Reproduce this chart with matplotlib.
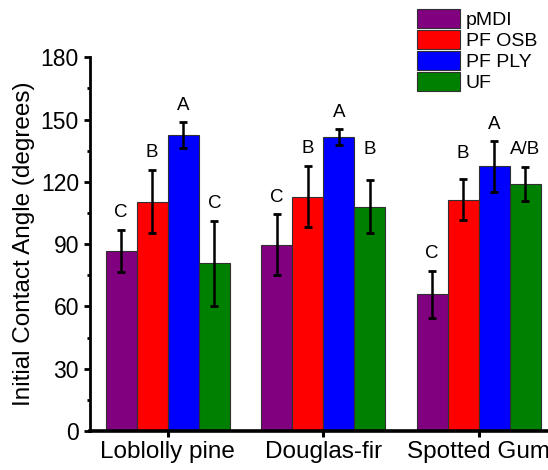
import numpy as np
import matplotlib
matplotlib.use('Agg')
import matplotlib.pyplot as plt
from matplotlib.ticker import MultipleLocator

plt.rcParams['font.family'] = ['Liberation Sans', 'DejaVu Sans']

# species groups and resin systems
species = ['Loblolly pine', 'Douglas-fir', 'Spotted Gum']
resins = ['pMDI', 'PF OSB', 'PF PLY', 'UF']
colors = ['#800080', '#ff0000', '#0000ff', '#008000']

# mean initial contact angle (degrees), one list per resin, in species order
pmdi = [86.9, 89.6, 65.8]
pf_osb = [110.5, 112.9, 111.3]
pf_ply = [142.7, 141.5, 127.5]
uf = [80.8, 108.1, 119.0]

# standard deviations
pmdi_sd = [10.1, 14.7, 11.4]
pf_osb_sd = [15.3, 14.7, 9.9]
pf_ply_sd = [6.2, 3.9, 12.3]
uf_sd = [20.4, 12.9, 8.2]

# significance letters
pmdi_grp = ['C', 'C', 'C']
pf_osb_grp = ['B', 'B', 'B']
pf_ply_grp = ['A', 'A', 'A']
uf_grp = ['C', 'B', 'A/B']

means = [pmdi, pf_osb, pf_ply, uf]
sds = [pmdi_sd, pf_osb_sd, pf_ply_sd, uf_sd]
groups = [pmdi_grp, pf_osb_grp, pf_ply_grp, uf_grp]

# gap between error bar top and letter centre (a few letters sit higher)
letter_gap = [[8.4, 8.4, 8.4],
              [8.4, 8.4, 12.5],
              [8.0, 8.0, 8.0],
              [8.4, 14.6, 8.4]]

fig = plt.figure(figsize=(5.48, 4.70), dpi=100)
ax = fig.add_axes([90 / 548, 39 / 470, 466.5 / 548, 373.7 / 470])

x = np.arange(len(species))
w = 0.2
for i, (m, s, g) in enumerate(zip(means, sds, groups)):
    pos = x + (i - 1.5) * w
    ax.bar(pos, m, width=w, color=colors[i], edgecolor='#303030',
           linewidth=0.8, label=resins[i], zorder=2)
    ax.errorbar(pos, m, yerr=s, fmt='none', ecolor='black', elinewidth=1.8,
                capsize=3.2, capthick=2.0, zorder=3)
    for xp, mv, sv, lab, gap in zip(pos, m, s, g, letter_gap[i]):
        ax.text(xp, mv + sv + gap, lab, ha='center', va='center',
                fontsize=13.5, zorder=4)

ax.set_xlim(-0.5, 2.5)
ax.set_ylim(0, 180)
ax.set_xticks(x)
ax.set_xticklabels(species, fontsize=17.5)
ax.yaxis.set_major_locator(MultipleLocator(30))
ax.yaxis.set_minor_locator(MultipleLocator(15))
ax.tick_params(axis='y', which='major', labelsize=16.5, length=4.5,
               width=2, pad=3.5, direction='out')
ax.tick_params(axis='y', which='minor', length=2.5, width=2, direction='out')
ax.tick_params(axis='x', which='major', length=4, width=2.2, pad=3)
ax.set_ylabel('Initial Contact Angle (degrees)', fontsize=17.5)
ax.yaxis.set_label_coords(-0.118, 0.5)

for side in ['top', 'right']:
    ax.spines[side].set_visible(False)
ax.spines['left'].set_linewidth(2.0)
ax.spines['bottom'].set_linewidth(2.6)

ax.legend(loc='upper left', bbox_to_anchor=(417 / 548, 1 - 9.3 / 470),
          bbox_transform=fig.transFigure, frameon=False, borderpad=0,
          borderaxespad=0, fontsize=14, handlelength=2.2, handleheight=1.1,
          labelspacing=0.05, handletextpad=0.3)

fig.savefig('out.png', dpi=100)
